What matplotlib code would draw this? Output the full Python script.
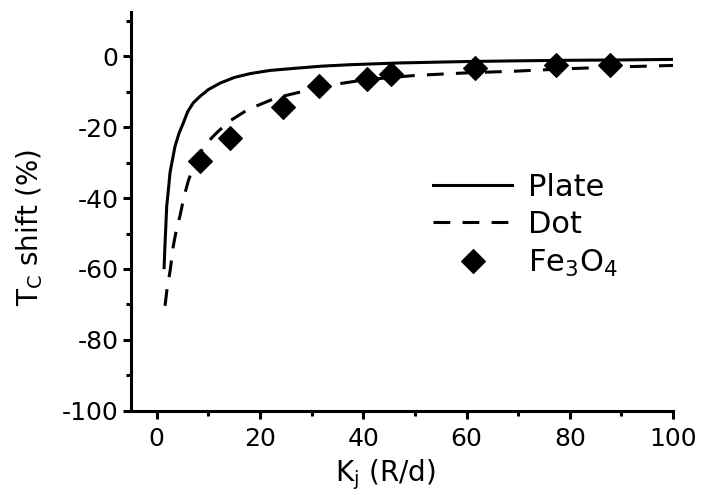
import matplotlib
matplotlib.use('Agg')
import matplotlib.pyplot as plt
from matplotlib.ticker import MultipleLocator

plt.rcParams['font.family'] = ['DejaVu Sans']
plt.rcParams['axes.unicode_minus'] = False

# Plate model curve
plate_x = [1.42, 1.6, 1.93, 2.3, 2.57, 3.0, 3.54, 4.3, 5.15, 6.0, 7.1, 8.4, 10,
           12.25, 15, 18.1, 22, 27.7, 32, 37.4, 47, 60, 70, 80, 90, 100]
plate_y = [-59.6, -53, -42.3, -37, -32.8, -29.5, -25.4, -21.8, -18.8, -15.6, -13.1,
           -11.3, -9.4, -7.6, -6.0, -4.9, -4.0, -3.3, -2.8, -2.4, -1.9, -1.5,
           -1.3, -1.15, -1.05, -0.9]

# Dot model curve
dot_x = [1.6, 2.0, 2.6, 3.2, 3.8, 4.5, 5.3, 6.1, 7.0, 8.5, 10, 11.6, 14, 17.7,
         23.2, 28.4, 34.2, 40.6, 50.3, 60, 69.7, 80, 90, 100]
dot_y = [-70.4, -65.5, -60.4, -53.5, -49, -45, -39.5, -35.2, -31.5, -27, -24,
         -21.6, -18.4, -15, -11.7, -9.9, -8.0, -6.6, -5.4, -4.7, -4.2, -3.5,
         -3.0, -2.6]

# Fe3O4 measurements
fe_x = [8.3, 14.1, 24.4, 31.4, 40.7, 45.4, 61.6, 77.4, 87.7]
fe_y = [-29.5, -23.0, -14.3, -8.4, -6.4, -5.1, -3.3, -2.6, -2.5]

fig = plt.figure(figsize=(7.04, 4.95), dpi=100)
ax = fig.add_axes([0.186, 0.170, 0.770, 0.806])

ax.plot(plate_x, plate_y, color='black', lw=2.2, label='Plate')
ax.plot(dot_x, dot_y, color='black', lw=2.2, dashes=(5.5, 4), label='Dot')
ax.plot(fe_x, fe_y, 'D', color='black', ms=12.5, mew=0.8,
        label=r'Fe$_\mathregular{3}$O$_\mathregular{4}$')

ax.set_xlim(-5, 100)
ax.set_ylim(-100, 12.5)
ax.xaxis.set_major_locator(MultipleLocator(20))
ax.xaxis.set_minor_locator(MultipleLocator(10))
ax.yaxis.set_major_locator(MultipleLocator(20))
ax.yaxis.set_minor_locator(MultipleLocator(10))

for s in ['top', 'right']:
    ax.spines[s].set_visible(False)
for s in ['left', 'bottom']:
    ax.spines[s].set_linewidth(2.2)
ax.tick_params(which='major', direction='out', length=5.5, width=2.2, labelsize=18)
ax.tick_params(axis='x', which='major', pad=6)
ax.tick_params(which='minor', direction='out', length=3.5, width=2.2)

ax.set_xlabel(r'K$_\mathregular{j}$ (R/d)', fontsize=20, labelpad=5)
ax.xaxis.label.set_x(0.47)
ax.set_ylabel(r'T$_\mathregular{C}$ shift (%)', fontsize=20, labelpad=12)
ax.yaxis.label.set_y(0.46)

ax.legend(loc='center left', bbox_to_anchor=(0.557, 0.464), frameon=False,
          fontsize=22, handlelength=2.6, handletextpad=0.5, labelspacing=0.27,
          borderpad=0, borderaxespad=0)

fig.savefig('out.png', dpi=100)
